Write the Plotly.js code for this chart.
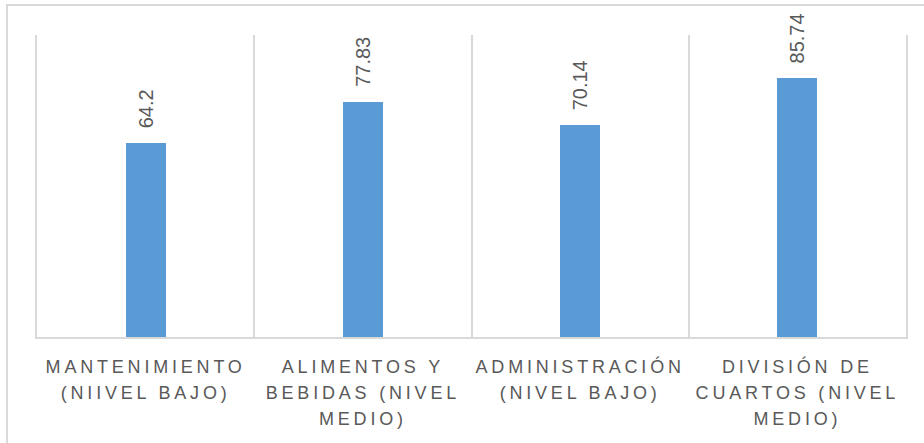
<!DOCTYPE html>
<html>
<head>
<meta charset="utf-8">
<script src="https://cdn.plot.ly/plotly-3.0.1.min.js"></script>
<style>
  html, body { margin: 0; padding: 0; background: #fff; }
  #chart { width: 924px; height: 443px; }
  #chart .xtick text { letter-spacing: 3.8px; }
</style>
</head>
<body>
<div id="chart"></div>
<script>
const categories = ["Mantenimiento", "Alimentos y bebidas", "Administración", "División de cuartos"];
const tickLabels = [
  "MANTENIMIENTO<br>(NIIVEL BAJO)",
  "ALIMENTOS Y<br>BEBIDAS (NIVEL<br>MEDIO)",
  "ADMINISTRACIÓN<br>(NIVEL BAJO)",
  "DIVISIÓN DE<br>CUARTOS (NIVEL<br>MEDIO)"
];
const values = [64.2, 77.83, 70.14, 85.74];
const valueLabels = ["64.2", "77.83", "70.14", "85.74"];

const gridColor = "#d9d9d9";
const textColor = "#595959";

const trace = {
  type: "bar",
  x: categories,
  y: values,
  width: 0.184,
  marker: { color: "#5b9bd5" },
  hoverinfo: "skip",
  showlegend: false
};

const annotations = categories.map((c, i) => ({
  x: c, y: values[i], xref: "x", yref: "y",
  text: valueLabels[i], textangle: -90,
  showarrow: false, yanchor: "bottom", xanchor: "center",
  yshift: 13,
  font: { family: "Liberation Sans, Arial, sans-serif", size: 20, color: textColor }
}));

const layout = {
  width: 924, height: 443,
  margin: { l: 37, r: 18, t: 35, b: 106 },
  paper_bgcolor: "#ffffff",
  plot_bgcolor: "#ffffff",
  bargap: 0,
  xaxis: {
    type: "category",
    tickson: "boundaries",
    tickmode: "array",
    tickvals: categories,
    ticktext: tickLabels,
    ticks: "",
    showgrid: true,
    gridcolor: gridColor,
    gridwidth: 2,
    showline: true,
    linecolor: gridColor,
    linewidth: 2,
    tickangle: 0,
    ticklabelstandoff: 12,
    tickfont: { family: "Liberation Sans, Arial, sans-serif", size: 18, color: textColor },
    fixedrange: true
  },
  yaxis: {
    range: [0, 100],
    showgrid: false,
    zeroline: false,
    showticklabels: false,
    ticks: "",
    showline: true,
    mirror: true,
    linecolor: gridColor,
    linewidth: 2,
    fixedrange: true
  },
  annotations: annotations,
  shapes: [{
    type: "rect", xref: "paper", yref: "paper",
    x0: -30 / 869, x1: 1 + 40 / 869,
    y0: -150 / 302, y1: 1 + 30 / 302,
    line: { color: gridColor, width: 2 },
    fillcolor: "rgba(0,0,0,0)",
    layer: "below"
  }]
};

Plotly.newPlot("chart", [trace], layout, { displayModeBar: false, staticPlot: true }).then(gd => {
  // widen the line spacing of multi-line category labels to match the reference
  const factor = 26 / 23.4;
  gd.querySelectorAll(".xtick text tspan.line").forEach(t => {
    const dy = t.getAttribute("dy");
    if (dy && dy.endsWith("em")) {
      const v = parseFloat(dy);
      if (v) t.setAttribute("dy", (v * factor).toFixed(3) + "em");
    }
  });
});
</script>
</body>
</html>
